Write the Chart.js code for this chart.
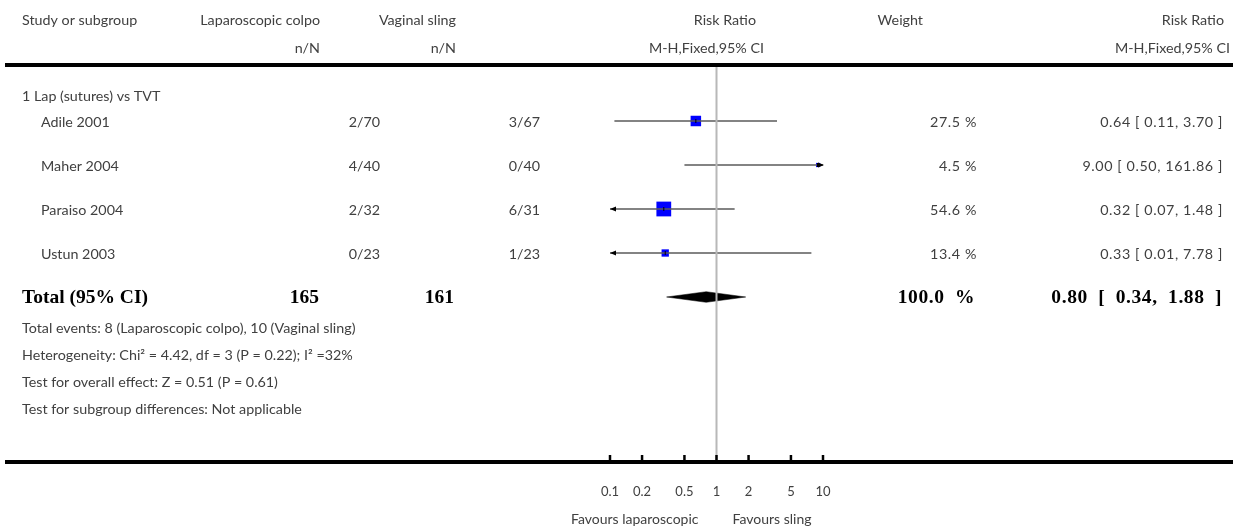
<!DOCTYPE html>
<html><head><meta charset="utf-8">
<script src="https://cdn.jsdelivr.net/npm/chart.js@4.4.0/dist/chart.umd.min.js"></script>
<style>html,body{margin:0;padding:0;background:#fff;} #wrap{width:1234px;height:531px;position:relative;}</style>
</head><body><div id="wrap"><canvas id="c" width="1234" height="531"></canvas></div>
<script>
// ---- data ----
const studies = ['Adile 2001', 'Maher 2004', 'Paraiso 2004', 'Ustun 2003'];
const lapEvents = ['2/70', '4/40', '2/32', '0/23'];
const slingEvents = ['3/67', '0/40', '6/31', '1/23'];
const rr = [0.64, 9.00, 0.32, 0.33];
const lower = [0.11, 0.50, 0.07, 0.01];
const upper = [3.70, 161.86, 1.48, 7.78];
const weights = [27.5, 4.5, 54.6, 13.4];
const totalN = [165, 161];
const totalRR = [0.80, 0.34, 1.88];
const totalWeight = 100.0;
const tickValues = [0.1, 0.2, 0.5, 1, 2, 5, 10];
const tickLabels = ['0.1', '0.2', '0.5', '1', '2', '5', '10'];
const subgroupLabel = '1 Lap (sutures) vs TVT';
const footLines = [
  'Total events: 8 (Laparoscopic colpo), 10 (Vaginal sling)',
  'Heterogeneity: Chi\u00b2 = 4.42, df = 3 (P = 0.22); I\u00b2 =32%',
  'Test for overall effect: Z = 0.51 (P = 0.61)',
  'Test for subgroup differences: Not applicable'
];
const favours = ['Favours laparoscopic', 'Favours sling'];

// ---- layout helpers (style, not data) ----
const ROW0 = 77, ROWH = 44;         // pixel of row r = ROW0 + ROWH*r
const TOP = 65, BOTTOM = 462;
const fmt2 = v => v.toFixed(2);
const ciText = (m, l, u, sp) => fmt2(m) + sp + '[' + sp + fmt2(l) + ',' + sp + fmt2(u) + sp + ']';
const totalRow = studies.length + 1;
const DIAMOND_H = 5.3 / ROWH;

const datasets = [];
datasets.push({
  label: 'boxes',
  data: rr.map((v, i) => ({x: v, y: i + 1})),
  pointStyle: 'rect',
  pointRadius: weights.map(w => 1.414 * Math.sqrt(w)),
  pointHoverRadius: weights.map(w => 1.414 * Math.sqrt(w)),
  backgroundColor: '#0000ff',
  borderWidth: 0,
  showLine: false,
  order: 3
});
studies.forEach((s, i) => {
  datasets.push({
    label: s,
    data: [{x: lower[i], y: i + 1}, {x: upper[i], y: i + 1}],
    showLine: true,
    borderColor: '#5a5a5a',
    borderWidth: 1.4,
    pointRadius: 0,
    order: 1
  });
});
datasets.push({
  label: 'total',
  data: [
    {x: totalRR[1], y: totalRow},
    {x: totalRR[0], y: totalRow - DIAMOND_H},
    {x: totalRR[2], y: totalRow},
    {x: totalRR[0], y: totalRow + DIAMOND_H},
    {x: totalRR[1], y: totalRow}
  ],
  showLine: true,
  fill: 'shape',
  backgroundColor: '#000',
  borderColor: '#000',
  borderWidth: 0.5,
  pointRadius: 0,
  tension: 0,
  order: 2
});

const forestPlugin = {
  id: 'forest',
  afterDatasetsDraw(chart) {
    const ctx = chart.ctx;
    const xs = chart.scales.x, ys = chart.scales.y;
    ctx.save();
    // point estimate ticks inside boxes
    ctx.strokeStyle = '#000'; ctx.lineWidth = 1;
    rr.forEach((v, i) => {
      const px = xs.getPixelForValue(v), py = ys.getPixelForValue(i + 1);
      ctx.beginPath(); ctx.moveTo(px, py - 2); ctx.lineTo(px, py + 2); ctx.stroke();
    });
    // arrows for clipped CIs
    ctx.fillStyle = '#000';
    studies.forEach((s, i) => {
      const py = ys.getPixelForValue(i + 1);
      if (lower[i] < xs.min) {
        const px = xs.getPixelForValue(xs.min);
        ctx.beginPath(); ctx.moveTo(px, py); ctx.lineTo(px + 6, py - 2.5); ctx.lineTo(px + 6, py + 2.5); ctx.closePath(); ctx.fill();
      }
      if (upper[i] > xs.max) {
        const px = xs.getPixelForValue(xs.max);
        ctx.beginPath(); ctx.moveTo(px + 1, py); ctx.lineTo(px - 5, py - 2.5); ctx.lineTo(px - 5, py + 2.5); ctx.closePath(); ctx.fill();
        ctx.fillRect(px - 6, py - 2, 1.5, 4);
      }
    });
    // line of no effect
    const x1 = xs.getPixelForValue(1);
    ctx.strokeStyle = '#b8b8b8'; ctx.lineWidth = 2;
    ctx.beginPath(); ctx.moveTo(x1, TOP); ctx.lineTo(x1, BOTTOM - 2); ctx.stroke();
    // thick rules
    ctx.strokeStyle = '#000'; ctx.lineWidth = 4;
    ctx.beginPath(); ctx.moveTo(5, TOP); ctx.lineTo(1233, TOP); ctx.stroke();
    ctx.beginPath(); ctx.moveTo(5, BOTTOM); ctx.lineTo(1233, BOTTOM); ctx.stroke();
    // axis ticks (upward)
    ctx.lineWidth = 2.5;
    tickValues.forEach(v => {
      const px = xs.getPixelForValue(v);
      ctx.beginPath(); ctx.moveTo(px, BOTTOM - 7); ctx.lineTo(px, BOTTOM); ctx.stroke();
    });

    // texts
    const F = '14.3px Lato, "Open Sans", sans-serif';
    const FB = 'bold 19.5px "Liberation Serif", "DejaVu Serif", serif';
    const C = '#404040';
    const T = (str, x, y, align, font, color, ls) => {
      ctx.font = font || F; ctx.fillStyle = color || C;
      ctx.textAlign = align || 'left'; ctx.textBaseline = 'middle';
      ctx.letterSpacing = ls || '0px';
      ctx.fillText(str, x, y);
    };
    // headers
    T('Study or subgroup', 22, 20);
    T('Laparoscopic colpo', 320, 20, 'right');
    T('n/N', 320, 48, 'right');
    T('Vaginal sling', 456, 20, 'right');
    T('n/N', 456, 48, 'right');
    T('Risk Ratio', 756, 20, 'right');
    T('M-H,Fixed,95% CI', 764, 48, 'right');
    T('Weight', 923, 20, 'right');
    T('Risk Ratio', 1224, 20, 'right');
    T('M-H,Fixed,95% CI', 1230, 48, 'right');
    // subgroup
    T(subgroupLabel, 22, ys.getPixelForValue(0.4) + 2);
    studies.forEach((s, i) => {
      const y = ys.getPixelForValue(i + 1) + 1;
      T(s, 41, y);
      T(lapEvents[i], 380, y, 'right');
      T(slingEvents[i], 540, y, 'right');
      T(weights[i].toFixed(1) + ' %', 977, y, 'right', F, C, '0.6px');
      T(ciText(rr[i], lower[i], upper[i], ' '), 1223, y, 'right', F, C, '0.6px');
    });
    const yt = ys.getPixelForValue(totalRow) + 1;
    T('Total (95% CI)', 22, yt, 'left', FB, '#000');
    T(String(totalN[0]), 319, yt, 'right', FB, '#000');
    T(String(totalN[1]), 454, yt, 'right', FB, '#000');
    T(totalWeight.toFixed(1) + '\u2002%', 975, yt, 'right', FB, '#000', '0.6px');
    T(ciText(totalRR[0], totalRR[1], totalRR[2], '\u2002'), 1222, yt, 'right', FB, '#000', '0.6px');
    footLines.forEach((l, i) => T(l, 22, 328 + 27 * i));
    // favours
    const FS = '14px Lato, "Open Sans", sans-serif';
    T(favours[0], x1 - 18, 519, 'right', FS);
    T(favours[1], x1 + 16, 519, 'left', FS);
    ctx.restore();
  }
};

new Chart(document.getElementById('c'), {
  type: 'scatter',
  data: {datasets},
  options: {
    responsive: false,
    animation: false,
    events: [],
    layout: {padding: {left: 610, right: 411, top: TOP, bottom: 0}},
    plugins: {legend: {display: false}, tooltip: {enabled: false}},
    scales: {
      x: {
        type: 'logarithmic', min: 0.1, max: 10, position: 'bottom',
        grid: {display: false}, border: {display: false},
        afterBuildTicks: s => { s.ticks = tickValues.map(v => ({value: v})); },
        afterFit: s => { s.height = 531 - BOTTOM; },
        ticks: {
          autoSkip: false, maxRotation: 0, padding: 14, color: '#404040',
          font: {family: 'Lato', size: 13},
          callback: (v, i) => tickLabels[i]
        }
      },
      y: {
        type: 'linear', display: false, reverse: true,
        min: (TOP - ROW0) / ROWH, max: (BOTTOM - ROW0) / ROWH
      }
    }
  },
  plugins: [forestPlugin]
});
</script>
</body></html>
